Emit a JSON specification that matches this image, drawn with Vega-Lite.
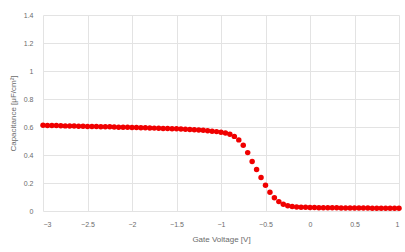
{
  "$schema": "https://vega.github.io/schema/vega-lite/v6.json",
  "width": 356,
  "height": 196,
  "autosize": {"type": "none"},
  "padding": {"left": 43, "top": 15, "right": 6, "bottom": 41},
  "background": "white",
  "config": {
    "view": {"stroke": null},
    "font": "Liberation Sans",
    "axis": {
      "gridColor": "#e3e3e3",
      "gridWidth": 1,
      "domain": false,
      "ticks": false,
      "labelColor": "#6b6b6b",
      "labelFontSize": 7,
      "titleColor": "#6b6b6b",
      "titleFontSize": 8,
      "titleFontWeight": "normal",
      "format": "~g"
    }
  },
  "data": {
    "values": [
      {"v": -3.00, "c": 0.612}, {"v": -2.95, "c": 0.611}, {"v": -2.90, "c": 0.610}, {"v": -2.85, "c": 0.610},
      {"v": -2.80, "c": 0.609}, {"v": -2.75, "c": 0.608}, {"v": -2.70, "c": 0.607}, {"v": -2.65, "c": 0.607},
      {"v": -2.60, "c": 0.606}, {"v": -2.55, "c": 0.605}, {"v": -2.50, "c": 0.604}, {"v": -2.45, "c": 0.604},
      {"v": -2.40, "c": 0.603}, {"v": -2.35, "c": 0.602}, {"v": -2.30, "c": 0.601}, {"v": -2.25, "c": 0.601},
      {"v": -2.20, "c": 0.600}, {"v": -2.15, "c": 0.599}, {"v": -2.10, "c": 0.598}, {"v": -2.05, "c": 0.598},
      {"v": -2.00, "c": 0.597}, {"v": -1.95, "c": 0.596}, {"v": -1.90, "c": 0.595}, {"v": -1.85, "c": 0.594},
      {"v": -1.80, "c": 0.593}, {"v": -1.75, "c": 0.592}, {"v": -1.70, "c": 0.591}, {"v": -1.65, "c": 0.590},
      {"v": -1.60, "c": 0.589}, {"v": -1.55, "c": 0.588}, {"v": -1.50, "c": 0.587}, {"v": -1.45, "c": 0.585},
      {"v": -1.40, "c": 0.584}, {"v": -1.35, "c": 0.582}, {"v": -1.30, "c": 0.580}, {"v": -1.25, "c": 0.578},
      {"v": -1.20, "c": 0.576}, {"v": -1.15, "c": 0.573}, {"v": -1.10, "c": 0.570}, {"v": -1.05, "c": 0.567},
      {"v": -1.00, "c": 0.563}, {"v": -0.95, "c": 0.557}, {"v": -0.90, "c": 0.548}, {"v": -0.85, "c": 0.533},
      {"v": -0.80, "c": 0.508}, {"v": -0.75, "c": 0.470}, {"v": -0.70, "c": 0.417}, {"v": -0.65, "c": 0.354},
      {"v": -0.60, "c": 0.297}, {"v": -0.55, "c": 0.240}, {"v": -0.50, "c": 0.184}, {"v": -0.45, "c": 0.134},
      {"v": -0.40, "c": 0.095}, {"v": -0.35, "c": 0.067}, {"v": -0.30, "c": 0.049}, {"v": -0.25, "c": 0.038},
      {"v": -0.20, "c": 0.032}, {"v": -0.15, "c": 0.029}, {"v": -0.10, "c": 0.027}, {"v": -0.05, "c": 0.026},
      {"v": 0.00, "c": 0.025}, {"v": 0.05, "c": 0.025}, {"v": 0.10, "c": 0.024}, {"v": 0.15, "c": 0.024},
      {"v": 0.20, "c": 0.023}, {"v": 0.25, "c": 0.023}, {"v": 0.30, "c": 0.023}, {"v": 0.35, "c": 0.022},
      {"v": 0.40, "c": 0.022}, {"v": 0.45, "c": 0.022}, {"v": 0.50, "c": 0.021}, {"v": 0.55, "c": 0.021},
      {"v": 0.60, "c": 0.021}, {"v": 0.65, "c": 0.021}, {"v": 0.70, "c": 0.020}, {"v": 0.75, "c": 0.020},
      {"v": 0.80, "c": 0.020}, {"v": 0.85, "c": 0.020}, {"v": 0.90, "c": 0.019}, {"v": 0.95, "c": 0.019},
      {"v": 1.00, "c": 0.019}
    ]
  },
  "mark": {"type": "circle", "size": 30, "color": "#f00000", "opacity": 1},
  "encoding": {
    "x": {
      "field": "v", "type": "quantitative",
      "scale": {"domain": [-3, 1], "nice": false},
      "axis": {"values": [-3, -2.5, -2, -1.5, -1, -0.5, 0, 0.5, 1], "title": "Gate Voltage [V]", "labelPadding": 9, "titlePadding": 8}
    },
    "y": {
      "field": "c", "type": "quantitative",
      "scale": {"domain": [0, 1.4], "nice": false},
      "axis": {"values": [0, 0.2, 0.4, 0.6, 0.8, 1, 1.2, 1.4], "title": "Capacitance [μF/cm²]", "labelPadding": 10, "titlePadding": 6}
    }
  }
}
